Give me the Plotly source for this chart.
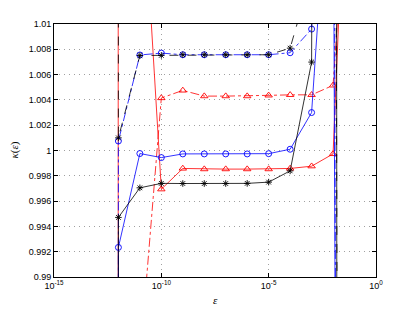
import plotly.graph_objects as go

# epsilon values (including off-chart end points that produce the steep lines)
eps = [1e-13, 1e-12, 1e-11, 1e-10, 1e-9, 1e-8, 1e-7, 1e-6, 1e-5, 1e-4, 1e-3, 1e-2, 1e-1]

red_dashdot = [0.90, 0.95, 0.9834, 1.00415, 1.00475, 1.0043, 1.0043, 1.0043, 1.00436, 1.0044, 1.0044, 1.00515, 1.03]
red_solid = [-1000, 10, 1.025, 0.99694, 0.99858, 0.99853, 0.99853, 0.99853, 0.99853, 0.99858, 0.99876, 0.99973, 1.04]
blue_dashdot = [-1000, 1.00075, 1.00755, 1.0077, 1.00757, 1.00757, 1.00757, 1.00757, 1.00757, 1.00773, 1.0096, 1.05, 0.5]
blue_solid = [-1000, 0.99234, 0.99976, 0.99944, 0.99973, 0.99973, 0.99973, 0.99973, 0.99975, 1.0001, 1.0030, 1.028, 0.6]
black_dashed = [1000, 1.0010, 1.00751, 1.00752, 1.00757, 1.00757, 1.00757, 1.00757, 1.00757, 1.00809, 1.014, 1.1, 0.5]
black_solid = [-1000, 0.99471, 0.99705, 0.99740, 0.99739, 0.99739, 0.99739, 0.99740, 0.99750, 0.99839, 1.00699, 1.5, -1.44]

y_ticks = [0.99, 0.992, 0.994, 0.996, 0.998, 1.0, 1.002, 1.004, 1.006, 1.008, 1.01]
y_ticktext = ["0.99", "0.992", "0.994", "0.996", "0.998", "1", "1.002", "1.004", "1.006", "1.008", "1.01"]
x_ticks = [1e-15, 1e-10, 1e-5, 1e0]
x_ticktext = ["10<sup>-15</sup>", "10<sup>-10</sup>", "10<sup>-5</sup>", "10<sup>0</sup>"]

RED = "#FF0000"
BLUE = "#0000FF"
BLACK = "#000000"

series = [
    (red_dashdot, RED, "dashdot", "triangle-up-open", 6.5),
    (red_solid, RED, "solid", "triangle-up-open", 6.5),
    (blue_dashdot, BLUE, "dashdot", "circle-open", 6),
    (blue_solid, BLUE, "solid", "circle-open", 6),
    (black_dashed, BLACK, "dash", "asterisk-open", 5.5),
    (black_solid, BLACK, "solid", "asterisk-open", 5.5),
]

fig = go.Figure()
for vals, col, dash, sym, size in series:
    fig.add_trace(go.Scatter(
        x=eps, y=vals, mode="lines+markers",
        line=dict(color=col, width=0.8, dash=dash),
        marker=dict(symbol=sym, size=size, color=col, line=dict(color=col, width=0.9)),
        showlegend=False, cliponaxis=True,
    ))

axis_common = dict(
    showline=True, linecolor="black", linewidth=1, mirror="ticks",
    ticks="inside", ticklen=4, tickcolor="black",
    showgrid=True, gridcolor="#a0a0a0", griddash="1px,4px", gridwidth=1,
    zeroline=False, automargin=False,
    tickfont=dict(family="Liberation Sans", size=9, color="black"),
)

fig.update_xaxes(type="log", range=[-15, 0], tickvals=x_ticks, ticktext=x_ticktext, **axis_common)
fig.update_yaxes(range=[0.99, 1.01], tickvals=y_ticks, ticktext=y_ticktext, **axis_common)

# the page body adds an 8px offset at top-left, so the figure is 8px smaller
fig.update_layout(
    width=407, height=304,
    margin=dict(l=46, r=39, t=16, b=35, autoexpand=False),
    paper_bgcolor="white", plot_bgcolor="white",
    font=dict(family="Liberation Sans", size=9, color="black"),
    annotations=[
        dict(text="<i>κ</i>(<i>ε</i>)", xref="paper", yref="paper", x=-0.124, y=0.5,
             xanchor="center", yanchor="middle",
             showarrow=False, textangle=-90, font=dict(size=11, family="Liberation Serif")),
        dict(text="<i>ε</i>", xref="paper", yref="paper", x=0.5, y=-0.091,
             xanchor="center", yanchor="middle",
             showarrow=False, font=dict(size=11, family="Liberation Serif")),
    ],
)

fig.write_html("out.html")
